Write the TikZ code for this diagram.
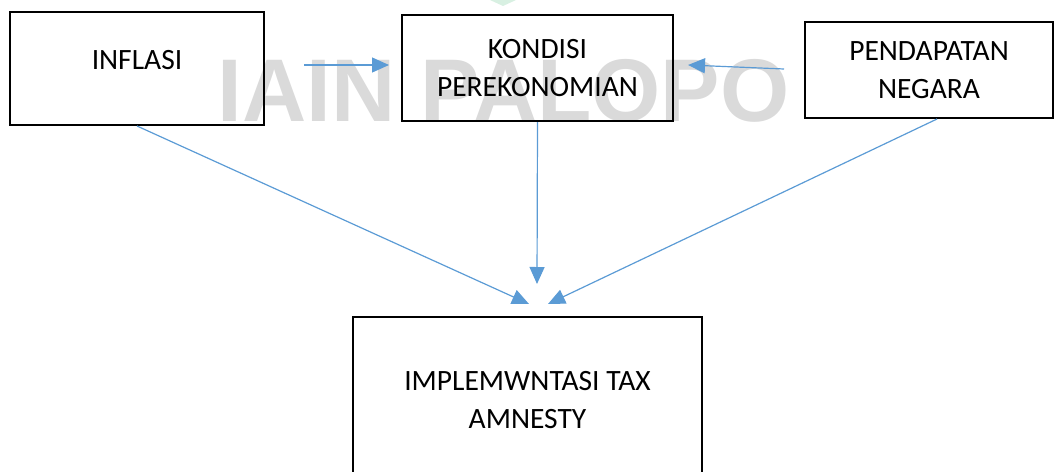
\documentclass[tikz,border=0pt]{standalone}
\usepackage{fontspec}
\setmainfont{Carlito}
\newfontfamily\wmfont{Liberation Sans}
\usetikzlibrary{arrows.meta,calc}
\definecolor{arrowblue}{HTML}{5B9BD5}
\definecolor{markgray}{HTML}{DADADA}
\definecolor{markgreen}{HTML}{D8F0E2}

\begin{document}
\begin{tikzpicture}[x=1pt,y=-1pt,
    box/.style={draw=black,line width=2pt,align=center,inner sep=0pt,
      font=\fontsize{29.5}{38}\selectfont},
    link/.style={draw=arrowblue,line width=1.2pt,-{Triangle[length=17pt,width=15pt]}}]
  \useasboundingbox (0,0) rectangle (1059,471);
  \clip (0,0) rectangle (1059,471);
  % watermark
  \fill[markgreen] (490,0) -- (516,0) -- (503,6) -- cycle;
  \node[font=\wmfont\bfseries\fontsize{89}{92}\selectfont,text=markgray,inner sep=0pt]
    (mark) at (503.5,91) {IAIN PALOPO};
  % boxes
  \node[box,minimum width=254pt,minimum height=113pt,text depth=17pt] (inflasi) at (137,68.5) {INFLASI};
  \node[box,minimum width=271pt,minimum height=106pt] (kondisi) at (537.5,68) {KONDISI\\PEREKONOMIAN};
  \node[box,minimum width=248pt,minimum height=96pt] (pendapatan) at (929,70) {PENDAPATAN\\NEGARA};
  \node[box,minimum width=349pt,minimum height=166pt] (impl) at (527.5,400) {IMPLEMWNTASI TAX\\AMNESTY};
  % arrow ends
  \coordinate (tipL) at ([shift={(1.5pt,12pt)}]impl.north);
  \coordinate (tipC) at ([shift={(9.5pt,32pt)}]impl.north);
  \coordinate (tipR) at ([shift={(20.5pt,12pt)}]impl.north);
  \draw[link] ([shift={(39pt,3.5pt)}]inflasi.east) -- ([shift={(-12pt,3pt)}]kondisi.west);
  \draw[link] ([shift={(-20pt,1pt)}]pendapatan.west) -- ([shift={(14pt,3pt)}]kondisi.east);
  \draw[link] (inflasi.south) -- (tipL);
  \draw[link] (kondisi.south) -- (tipC);
  \draw[link] ([xshift=8pt]pendapatan.south) -- (tipR);
\end{tikzpicture}
\end{document}
